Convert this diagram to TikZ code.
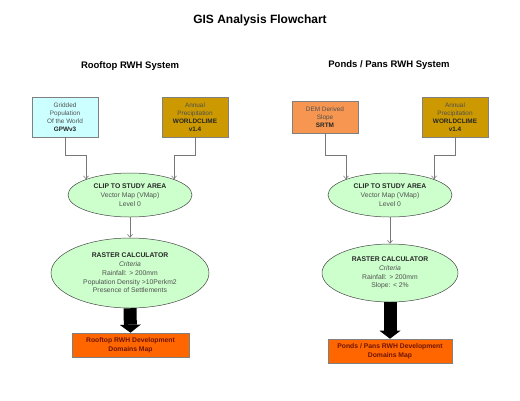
\documentclass[tikz,border=0pt]{standalone}
\usepackage{fontspec}
\setmainfont{Liberation Sans}
\usetikzlibrary{arrows.meta,shapes.geometric}

\begin{document}
\begin{tikzpicture}[x=1pt,y=-1pt,
  head/.style={font=\fontsize{9.5}{11}\selectfont\bfseries},
  box/.style={draw=cBd, line width=0.6pt, minimum width=66pt, inner sep=0pt, align=center, font=\fontsize{6.4}{8}\selectfont, text=cTx},
  oval/.style={ellipse, draw=cEd, line width=0.5pt, fill=cE, inner sep=0pt, align=center, font=\fontsize{6.8}{8.7}\selectfont, text=cTx},
  outbox/.style={draw=cBd, line width=0.6pt, fill=cO, minimum height=24pt, inner sep=0pt, align=center, font=\fontsize{6.8}{8.7}\selectfont\bfseries, text=cOt},
  conn/.style={draw=cLn, line width=0.6pt, -{Straight Barb[length=3pt,width=5pt]}},
  fat/.style={draw=black, line width=13pt, -{Triangle[length=8pt,width=21pt,line width=0pt]}}]
\definecolor{cC}{RGB}{204,255,255}
\definecolor{cG}{RGB}{204,153,0}
\definecolor{cD}{RGB}{246,150,80}
\definecolor{cE}{RGB}{204,255,204}
\definecolor{cO}{RGB}{255,102,0}
\definecolor{cBd}{RGB}{128,128,128}
\definecolor{cEd}{RGB}{70,70,70}
\definecolor{cLn}{RGB}{120,120,120}
\definecolor{cTx}{RGB}{80,80,80}
\definecolor{cOt}{RGB}{110,20,0}
\def\bt#1{\textcolor{black!85}{\textbf{#1}}}

\useasboundingbox (0,0) rectangle (520,400);

% titles
\node[font=\fontsize{12}{14}\selectfont\bfseries] (title) at (260,20) {GIS Analysis Flowchart};
\node[head] (hRoof) at (130,66) {Rooftop RWH System};
\node[head] (hPond) at (389,65) {Ponds / Pans RWH System};

% input layers
\node[box, fill=cC, minimum height=40pt] (gpw) at (65,117) {Gridded\\Population\\Of the World\\\bt{GPWv3}};
\node[box, fill=cG, minimum height=40pt] (wcA) at (195,117) {Annual\\Precipitation\\\bt{WORLDCLIME}\\\bt{v1.4}};
\node[box, fill=cD, minimum height=32pt] (dem) at (325,117) {DEM Derived\\Slope\\\bt{SRTM}};
\node[box, fill=cG, minimum height=40pt] (wcB) at (455,117) {Annual\\Precipitation\\\bt{WORLDCLIME}\\\bt{v1.4}};

% processing
\node[oval, minimum width=124pt, minimum height=44pt] (clipA) at (130,195) {\bt{CLIP TO STUDY AREA}\\Vector Map (VMap)\\Level 0};
\node[oval, minimum width=124pt, minimum height=44pt] (clipB) at (390,195) {\bt{CLIP TO STUDY AREA}\\Vector Map (VMap)\\Level 0};
\node[oval, minimum width=158pt, minimum height=70pt] (rcA) at (130,273) {\bt{RASTER CALCULATOR}\\\textit{Criteria}\\Rainfall: > 200mm\\Population Density >10Perkm2\\Presence of Settlements};
\node[oval, minimum width=136pt, minimum height=58pt] (rcB) at (390,273) {\bt{RASTER CALCULATOR}\\\textit{Criteria}\\Rainfall: > 200mm\\Slope: < 2\%};

% outputs
\node[outbox, minimum width=117pt] (outA) at (130.5,345) {Rooftop RWH Development\\Domains Map};
\node[outbox, minimum width=124pt] (outB) at (390,351) {Ponds / Pans RWH Development\\Domains Map};

% connectors
\draw[conn] (gpw.south) -- ++(0,18) -| (clipA.north west);
\draw[conn] (wcA.south) -- ++(0,18) -| (clipA.north east);
\draw[conn] (dem.south) -- ++(0,22) -| (clipB.north west);
\draw[conn] (wcB.south) -- ++(0,18) -| (clipB.north east);
\foreach \a/\b in {clipA/rcA, clipB/rcB}{
  \draw[conn] (\a.south) -- (\b.north);
}
\foreach \a/\b in {rcA/outA, rcB/outB}{
  \draw[fat] (\a.south) -- (\b.north);
}
\end{tikzpicture}
\end{document}
